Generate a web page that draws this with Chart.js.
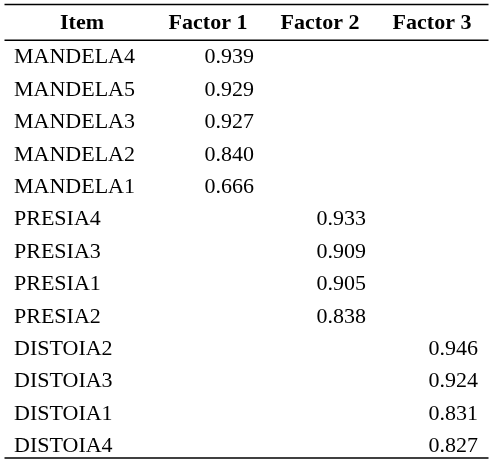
<!DOCTYPE html>
<html><head><meta charset="utf-8">
<script src="https://cdn.jsdelivr.net/npm/chart.js@4.4.0/dist/chart.umd.min.js"></script>
<style>html,body{margin:0;padding:0;background:#fff;overflow:hidden}</style>
</head><body>
<canvas id="c" width="492" height="463" style="display:block;width:492px;height:463px"></canvas>
<script>
const columnHeaders = ['Item', 'Factor 1', 'Factor 2', 'Factor 3'];
const items = ['MANDELA4','MANDELA5','MANDELA3','MANDELA2','MANDELA1',
               'PRESIA4','PRESIA3','PRESIA1','PRESIA2',
               'DISTOIA2','DISTOIA3','DISTOIA1','DISTOIA4'];
const factor1 = [0.939, 0.929, 0.927, 0.840, 0.666, null, null, null, null, null, null, null, null];
const factor2 = [null, null, null, null, null, 0.933, 0.909, 0.905, 0.838, null, null, null, null];
const factor3 = [null, null, null, null, null, null, null, null, null, 0.946, 0.924, 0.831, 0.827];

const factorSeries = [factor1, factor2, factor3];
const FONT = '"Liberation Serif", "Times New Roman", serif';

const datasets = factorSeries.map((vals, fi) => ({
  label: columnHeaders[fi + 1],
  data: items.map((it, i) => vals[i] == null ? null : { x: fi + 1, y: it, v: vals[i] }).filter(p => p),
  pointRadius: 0,
  pointHoverRadius: 0,
  showLine: false
}));

const tablePlugin = {
  id: 'tableText',
  afterDatasetsDraw(chart) {
    const ctx = chart.ctx;
    const xs = chart.scales.x, ys = chart.scales.y;
    const area = chart.chartArea;
    const rowH = ys.getPixelForValue(1) - ys.getPixelForValue(0);
    ctx.save();
    ctx.fillStyle = '#000';
    // values
    ctx.font = '22px ' + FONT;
    ctx.textAlign = 'right';
    ctx.textBaseline = 'middle';
    chart.data.datasets.forEach((ds, di) => {
      const meta = chart.getDatasetMeta(di);
      meta.data.forEach((el, j) => {
        ctx.fillText(ds.data[j].v.toFixed(3), el.x, el.y);
      });
    });
    // item labels
    ctx.textAlign = 'left';
    items.forEach((it, i) => {
      ctx.fillText(it, 14, ys.getPixelForValue(i));
    });
    // headers
    const headY = ys.getPixelForValue(0) - rowH * 1.05;
    ctx.font = 'bold 22px ' + FONT;
    ctx.textAlign = 'center';
    ctx.fillText(columnHeaders[0], 82, headY);
    for (let f = 1; f < columnHeaders.length; f++) {
      ctx.fillText(columnHeaders[f], xs.getPixelForValue(f) - 46, headY);
    }
    // rules
    ctx.strokeStyle = '#000';
    ctx.lineWidth = 1.6;
    const x0 = 4.5, x1 = 488.5;
    [4.5, area.top - 1, 458].forEach(y => {
      ctx.beginPath(); ctx.moveTo(x0, y); ctx.lineTo(x1, y); ctx.stroke();
    });
    ctx.restore();
  }
};

new Chart(document.getElementById('c'), {
  type: 'scatter',
  data: { datasets },
  options: {
    responsive: false,
    animation: false,
    events: [],
    layout: { padding: { top: 41.3, bottom: 0.3, left: 0, right: 0 } },
    plugins: { legend: { display: false }, tooltip: { enabled: false } },
    scales: {
      x: { type: 'linear', min: -1.268, max: 3.125, display: false },
      y: { type: 'category', labels: items, offset: true, display: false }
    }
  },
  plugins: [tablePlugin]
});
</script>
</body></html>
